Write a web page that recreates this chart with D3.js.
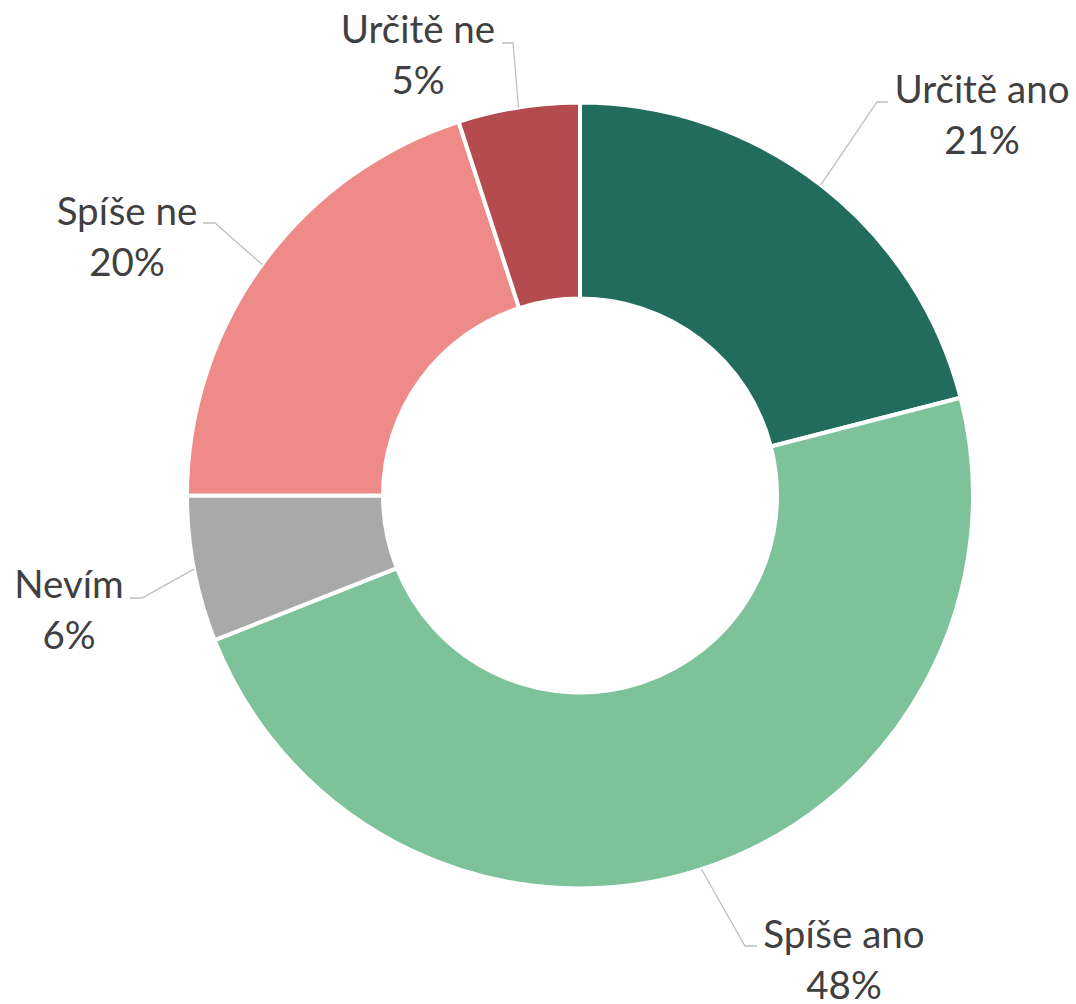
<!DOCTYPE html>
<html><head><meta charset="utf-8">
<script src="https://cdn.jsdelivr.net/npm/d3@7"></script>
<style>html,body{margin:0;padding:0;background:#fff;}svg{display:block;}</style>
</head><body>
<svg id="chart" width="1076" height="1004"></svg>
<script>
const categories = ["Určitě ano", "Spíše ano", "Nevím", "Spíše ne", "Určitě ne"];
const values = [21, 48, 6, 20, 5];
const percentLabels = ["21%", "48%", "6%", "20%", "5%"];
const colors = ["#226C5E", "#7DC299", "#A9A9A9", "#EE8A87", "#B34B4F"];

// layout: label anchor (text centre x, first baseline y), elbow point, end of the short horizontal tick
const labelLayout = [
  {tx: 982, ty: 103, ex: 877, ey: 102, hx: 888},
  {tx: 844, ty: 948, ex: 745, ey: 946, hx: 757},
  {tx: 69,  ty: 598, ex: 142, ey: 598, hx: 130},
  {tx: 127, ty: 225, ex: 215, ey: 223, hx: 203},
  {tx: 418, ty: 43,  ex: 513, ey: 43,  hx: 502}
];

const cx = 580, cy = 495.5, rOuter = 393, rInner = 197;
const svg = d3.select("#chart");
const g = svg.append("g").attr("transform", `translate(${cx},${cy})`);

const data = categories.map((c, i) => ({name: c, value: values[i], pct: percentLabels[i], color: colors[i], lay: labelLayout[i]}));
const pie = d3.pie().value(d => d.value).sort(null).startAngle(0).endAngle(2 * Math.PI);
const arcs = pie(data);
const arc = d3.arc().innerRadius(rInner).outerRadius(rOuter);

g.selectAll("path.slice").data(arcs).join("path")
  .attr("class", "slice")
  .attr("d", arc)
  .attr("fill", d => d.data.color)
  .attr("stroke", "#fff")
  .attr("stroke-width", 4)
  .attr("stroke-linejoin", "miter");

arcs.forEach(a => {
  const mid = (a.startAngle + a.endAngle) / 2;
  const px = cx + rOuter * Math.sin(mid), py = cy - rOuter * Math.cos(mid);
  const L = a.data.lay;
  svg.append("polyline")
    .attr("points", `${px},${py} ${L.ex},${L.ey} ${L.hx},${L.ey}`)
    .attr("fill", "none")
    .attr("stroke", "#BFBFBF")
    .attr("stroke-width", 1.3);
  const t = svg.append("text")
    .attr("x", L.tx).attr("y", L.ty)
    .attr("text-anchor", "middle")
    .attr("font-family", "Lato, 'Open Sans', sans-serif")
    .attr("font-size", 38.5)
    .attr("fill", "#404040");
  t.append("tspan").attr("x", L.tx).attr("y", L.ty).text(a.data.name);
  t.append("tspan").attr("x", L.tx).attr("y", L.ty + 51).text(a.data.pct);
});
</script>
</body></html>
